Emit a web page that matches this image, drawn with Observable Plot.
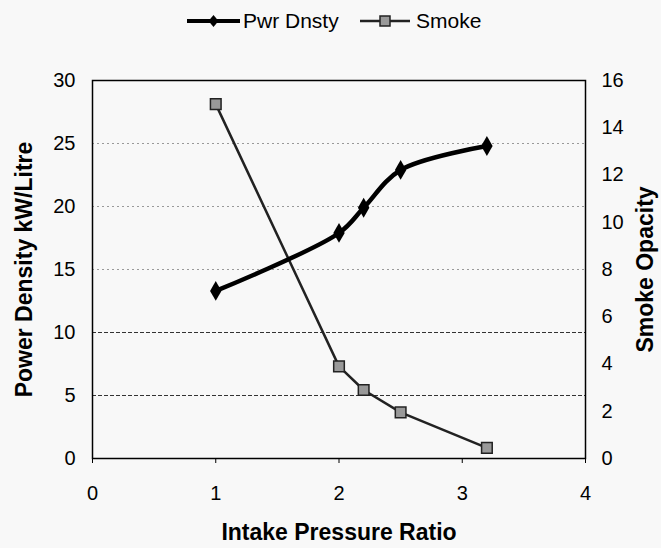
<!DOCTYPE html>
<html>
<head>
<meta charset="utf-8">
<script src="https://cdn.jsdelivr.net/npm/d3@7"></script>
<script src="https://cdn.jsdelivr.net/npm/@observablehq/plot@0.6"></script>
<style>
  html, body { margin: 0; padding: 0; background: #f8f8f8; }
  body { width: 661px; height: 548px; overflow: hidden; font-family: "Liberation Sans", Arial, sans-serif; }
  #legend { position: relative; height: 40px; }
  .item { position: absolute; top: 8px; height: 26px; display: flex; align-items: center; font-size: 21px; color: #000; }
  .item svg { display: block; margin-right: 3px; }
</style>
</head>
<body>
<div id="legend"></div>
<div id="chart"></div>
<script>
const intakeRatio = [1, 2, 2.2, 2.5, 3.2];
const pwrDensity = [13.3, 17.9, 19.9, 22.9, 24.8];
const smokeOpacity = [15, 3.9, 2.9, 1.95, 0.45];
const seriesNames = ["Pwr Dnsty", "Smoke"];
const leftTicks = [0, 5, 10, 15, 20, 25, 30];
const rightTicks = [0, 2, 4, 6, 8, 10, 12, 14, 16];
const xTicks = [0, 1, 2, 3, 4];
const leftMax = 30, rightMax = 16;
const k = leftMax / rightMax;

const pwrRows = intakeRatio.map((x, i) => ({x, y: pwrDensity[i]}));
const smokeRows = intakeRatio.map((x, i) => ({x, y: smokeOpacity[i] * k, v: smokeOpacity[i]}));

// Legend
const legend = document.getElementById("legend");
const legendLefts = [187, 360];
seriesNames.forEach((name, i) => {
  const div = document.createElement("div");
  div.className = "item";
  div.style.left = legendLefts[i] + "px";
  const w = i === 0 ? 53 : 50;
  const sym = i === 0
    ? `<svg width="${w}" height="20"><line x1="0" y1="10" x2="${w}" y2="10" stroke="#000" stroke-width="4"/><path d="M${w/2} 4 L${w/2+5} 10 L${w/2} 16 L${w/2-5} 10 Z" fill="#000"/></svg>`
    : `<svg width="${w}" height="20"><line x1="0" y1="10" x2="${w}" y2="10" stroke="#222" stroke-width="2.5"/><rect x="${w/2-5}" y="5" width="10" height="10" fill="#999" stroke="#222" stroke-width="1.5"/></svg>`;
  div.innerHTML = sym + `<span>${name}</span>`;
  if (i === 1) div.querySelector("svg").style.marginRight = "6px";
  legend.appendChild(div);
});

const chart = Plot.plot({
  width: 661,
  height: 508,
  marginTop: 40,
  marginBottom: 90,
  marginLeft: 92,
  marginRight: 76,
  style: {background: "#f8f8f8", fontFamily: "Liberation Sans, Arial, sans-serif", fontSize: "20px", color: "#000"},
  x: {domain: [0, 4]},
  y: {domain: [0, leftMax]},
  marks: [
    Plot.ruleY([5, 10], {stroke: "#333", strokeDasharray: "4,2", strokeWidth: 1}),
    Plot.ruleY([15, 20, 25], {stroke: "#999", strokeDasharray: "2,3", strokeWidth: 1}),
    Plot.axisX({ticks: xTicks, tickFormat: d => String(d), tickSize: 5, tickPadding: 22, fontSize: 20, label: null}),
    Plot.axisY({ticks: leftTicks, tickSize: 0, tickPadding: 17, fontSize: 20, label: null}),
    Plot.axisY({anchor: "right", ticks: rightTicks.map(v => v * k), tickFormat: d => String(Math.round(d / k)), tickSize: 0, tickPadding: 16, fontSize: 20, label: null}),
    Plot.line(smokeRows, {x: "x", y: "y", stroke: "#222", strokeWidth: 2.5}),
    Plot.line(pwrRows, {x: "x", y: "y", stroke: "#000", strokeWidth: 4.5, curve: "catmull-rom"}),
    Plot.dot(smokeRows, {x: "x", y: "y", symbol: "square", r: 6, fill: "#999", stroke: "#222", strokeWidth: 1.5}),
    Plot.dot(pwrRows, {x: "x", y: "y", symbol: "diamond", r: 6, fill: "#000"}),
    Plot.frame({stroke: "#000", strokeWidth: 1.5}),
    Plot.text(["Intake Pressure Ratio"], {frameAnchor: "bottom", dy: 74, textAnchor: "middle", lineAnchor: "middle", fontWeight: "bold", fontSize: 23}),
    Plot.text(["Power Density kW/Litre"], {frameAnchor: "left", dx: -68, rotate: -90, textAnchor: "middle", lineAnchor: "middle", fontWeight: "bold", fontSize: 23}),
    Plot.text(["Smoke Opacity"], {frameAnchor: "right", dx: 60, rotate: -90, textAnchor: "middle", lineAnchor: "middle", fontWeight: "bold", fontSize: 23})
  ]
});
document.getElementById("chart").appendChild(chart);
</script>
</body>
</html>
